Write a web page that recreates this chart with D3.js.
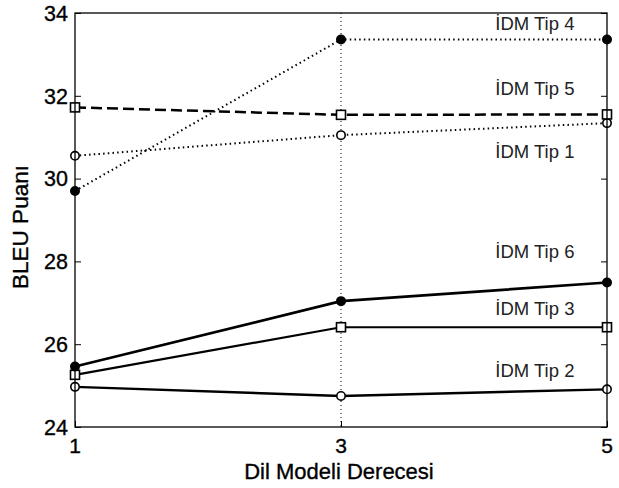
<!DOCTYPE html>
<html><head><meta charset="utf-8">
<script src="https://cdn.jsdelivr.net/npm/d3@7"></script>
<style>body{margin:0;background:#fff}svg{display:block}text{font-family:"Liberation Sans",Arial,sans-serif;fill:#000}.heavy{stroke:#000;stroke-width:0.35px}</style>
</head><body>
<svg id="c" width="619" height="488"></svg>
<script>
const xValues = [1, 3, 5];
const xTicks = [1, 3, 5];
const yTicks = [24, 26, 28, 30, 32, 34];
const seriesNames = ["İDM Tip 1","İDM Tip 2","İDM Tip 3","İDM Tip 4","İDM Tip 5","İDM Tip 6"];
const tip1 = [30.55, 31.05, 31.34];
const tip2 = [24.97, 24.75, 24.91];
const tip3 = [25.26, 26.41, 26.41];
const tip4 = [29.70, 33.36, 33.36];
const tip5 = [31.72, 31.54, 31.55];
const tip6 = [25.46, 27.04, 27.49];
const labelX = 4.16;
const labelY = [30.50, 25.21, 26.71, 33.59, 32.02, 28.08];
const xTitle = "Dil Modeli Derecesi";
const yTitle = "BLEU Puanı";

const svg = d3.select("#c");
const L = 75, R = 607, T = 13, B = 427;
const x = d3.scaleLinear().domain([1,5]).range([L,R]);
const y = d3.scaleLinear().domain([24,34]).range([B,T]);

// grid line at x=3
svg.append("line").attr("x1",x(3)).attr("x2",x(3)).attr("y1",T).attr("y2",B)
  .attr("stroke","#000").attr("stroke-width",1).attr("stroke-dasharray","1,3");

// ticks (inward) via axes
const tl = 6;
svg.append("g").attr("transform",`translate(${L},0)`)
  .call(d3.axisRight(y).tickValues(yTicks).tickSize(tl).tickFormat(""))
  .call(g=>{g.select(".domain").remove();});
svg.append("g").attr("transform",`translate(${R},0)`)
  .call(d3.axisLeft(y).tickValues(yTicks).tickSize(tl).tickFormat(""))
  .call(g=>{g.select(".domain").remove();});
svg.append("g").attr("transform",`translate(0,${B})`)
  .call(d3.axisTop(x).tickValues(xTicks).tickSize(tl).tickFormat(""))
  .call(g=>{g.select(".domain").remove();});

// tick labels
svg.append("g").selectAll("text").data(yTicks).join("text").attr("class","heavy")
  .attr("x", L-7).attr("y", d=>y(d)).attr("dy","0.36em")
  .attr("text-anchor","end").style("font-size","21.5px").text(d=>d);
svg.append("g").selectAll("text").data(xTicks).join("text").attr("class","heavy")
  .attr("x", d=>x(d)).attr("y", 453)
  .attr("text-anchor","middle").style("font-size","21px").text(d=>d);

// titles
svg.append("text").attr("class","heavy").attr("x",(L+R)/2-2).attr("y",479).attr("text-anchor","middle")
  .style("font-size","22px").text(xTitle);
svg.append("text").attr("class","heavy").attr("transform",`translate(28,${(T+B)/2+7}) rotate(-90)`)
  .attr("text-anchor","middle").style("font-size","22.5px").text(yTitle);

const series = [
  {v: tip1, dash:"1.5,3.2", w:2, marker:"circle", fill:"#fff"},
  {v: tip2, dash:null, w:2.4, marker:"circle", fill:"#fff"},
  {v: tip3, dash:null, w:2.2, marker:"square", fill:"#fff"},
  {v: tip4, dash:"1.5,3.2", w:2, marker:"circle", fill:"#000"},
  {v: tip5, dash:"11,5", w:2.5, marker:"square", fill:"#fff"},
  {v: tip6, dash:null, w:2.7, marker:"circle", fill:"#000"}
];
const line = d3.line().x((d,i)=>x(xValues[i])).y(d=>y(d));
series.forEach(s=>{
  svg.append("path").attr("d", line(s.v)).attr("fill","none").attr("stroke","#000")
    .attr("stroke-width", s.w).attr("stroke-dasharray", s.dash);
});
series.forEach(s=>{
  const g = svg.append("g");
  if (s.marker==="circle") {
    g.selectAll("circle").data(s.v).join("circle")
      .attr("cx",(d,i)=>x(xValues[i])).attr("cy",d=>y(d)).attr("r",4.2)
      .attr("fill",s.fill).attr("stroke","#000").attr("stroke-width",1.6);
  } else {
    g.selectAll("rect").data(s.v).join("rect")
      .attr("x",(d,i)=>x(xValues[i])-4.5).attr("y",d=>y(d)-4.5).attr("width",9).attr("height",9)
      .attr("fill",s.fill).attr("stroke","#000").attr("stroke-width",1.6);
  }
});

// frame
svg.append("rect").attr("x",L).attr("y",T).attr("width",R-L).attr("height",B-T)
  .attr("fill","none").attr("stroke","#000").attr("stroke-width",1.3);

// series labels
svg.append("g").selectAll("text").data(seriesNames).join("text")
  .attr("x", x(labelX)).attr("y",(d,i)=>y(labelY[i]))
  .style("font-size","18.5px").style("fill","#222").text(d=>d);
</script>
</body></html>
